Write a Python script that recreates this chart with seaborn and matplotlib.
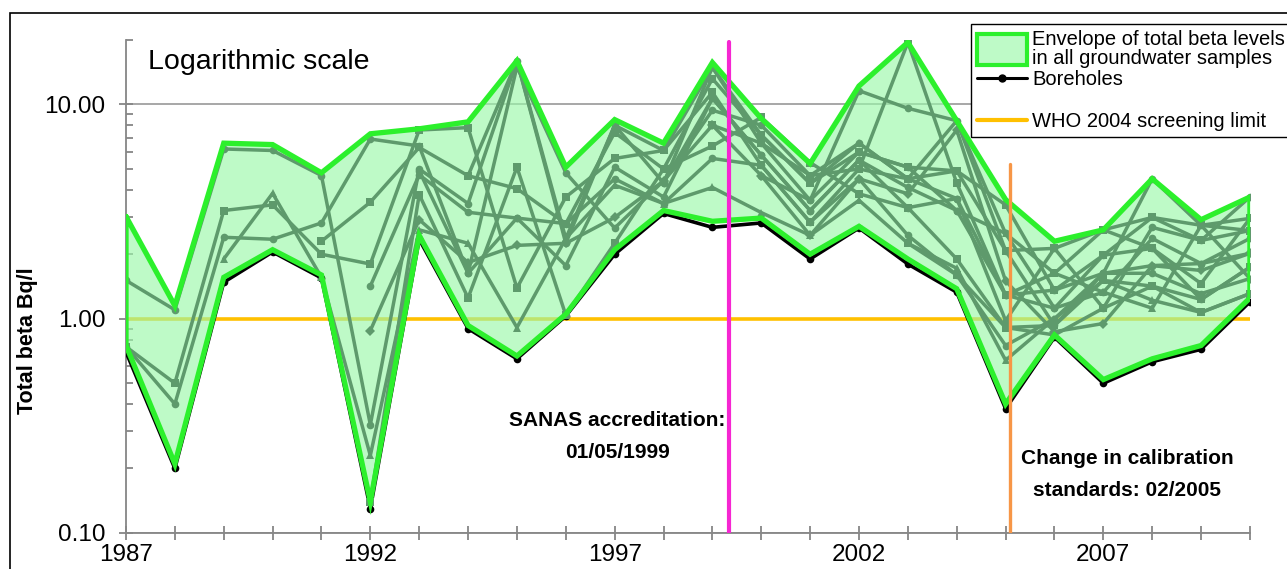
import numpy as np
import pandas as pd
import matplotlib
matplotlib.use("Agg")
import matplotlib.pyplot as plt
from matplotlib.patches import Rectangle
from matplotlib.lines import Line2D
from matplotlib.legend_handler import HandlerPatch
from matplotlib.ticker import FixedLocator, LogLocator, FuncFormatter, NullFormatter
import seaborn as sns

nan = np.nan

# ---- data -------------------------------------------------------------
years = list(range(1987, 2011))

# envelope of total beta levels in all groundwater samples (Bq/l)
envelope_max = [3.0, 1.15, 6.6, 6.5, 4.8, 7.3, 7.7, 8.3, 16.0, 5.1, 8.5, 6.6,
                15.7, 8.6, 5.3, 12.2, 19.5, 8.4, 3.6, 2.3, 2.6, 4.5, 2.9, 3.7]
envelope_min = [0.75, 0.21, 1.56, 2.1, 1.6, 0.14, 2.45, 0.93, 0.67, 1.05, 2.1, 3.2,
                2.85, 2.95, 2.0, 2.7, 1.9, 1.38, 0.40, 0.84, 0.52, 0.65, 0.75, 1.25]

# reference borehole series (black)
borehole_ref = [0.70, 0.20, 1.48, 2.05, 1.55, 0.13, 2.35, 0.90, 0.65, 1.03, 2.0, 3.1,
                2.67, 2.8, 1.9, 2.65, 1.8, 1.33, 0.38, 0.82, 0.50, 0.63, 0.72, 1.2]

# individual boreholes
bh01 = [1.51, 1.10, 6.2, 6.1, 4.66, 0.32, 5.0, 3.45, 16.0, 2.25, 8.0, 4.3,
        14.9, 6.6, 3.57, 11.6, 9.6, 8.4, 2.08, 0.93, 1.63, 4.5, 2.73, 1.54]
bh02 = [0.74, 0.50, 3.2, 3.4, 2.0, 1.8, 7.6, 7.8, 1.39, 3.7, 5.6, 6.1,
        11.4, 5.2, 2.82, 5.0, 19.5, 4.3, 1.29, 1.63, 2.6, 2.13, 1.46, 2.94]
bh03 = [0.74, 0.40, 2.4, 2.35, 2.8, 6.9, 6.4, 1.63, 15.0, 4.8, 2.65, 4.4,
        9.4, 8.0, 4.66, 6.6, 4.5, 3.64, 0.98, 2.13, 1.12, 2.67, 2.32, 3.7]
bh04 = [nan, nan, 1.9, 3.85, 1.56, 0.23, 2.6, 2.25, 0.91, 2.37, 4.2, 3.45,
        4.1, 3.13, 2.45, 3.57, 2.25, 1.72, 0.64, 1.0, 1.51, 1.22, 1.07, 1.31]
bh05 = [nan, nan, nan, nan, 2.3, 3.5, 6.3, 4.65, 4.05, 2.78, 7.4, 5.0,
        13.2, 7.2, 4.28, 6.0, 5.1, 4.9, 3.4, 1.36, 1.98, 2.97, 2.73, 2.58]
bh06 = [nan, nan, nan, nan, nan, 1.42, 4.7, 3.14, 2.95, 1.77, 5.1, 3.7,
        10.7, 5.8, 3.2, 5.5, 4.1, 3.2, 2.5, 1.12, 1.33, 2.37, 1.81, 2.37]
bh07 = [nan, nan, nan, nan, nan, 0.88, 2.9, 1.83, 2.2, 2.25, 2.97, 4.4,
        8.0, 4.66, 2.45, 4.5, 3.83, 7.6, 1.5, 0.87, 0.95, 1.77, 1.68, 2.02]
bh08 = [nan, nan, nan, nan, nan, 0.14, 3.8, 1.25, 5.1, 1.04, 2.25, 5.0,
        6.4, 8.7, 5.36, 3.83, 3.3, 1.9, 0.91, 0.84, 1.12, 1.42, 1.23, 1.74]
bh09 = [nan, nan, nan, nan, nan, nan, 4.9, 1.63, 2.95, 2.78, 4.5, 3.45,
        5.6, 5.2, 2.82, 4.5, 2.45, 1.6, 0.75, 1.0, 1.63, 1.63, 1.31, 1.54]
bh10 = [nan, nan, nan, nan, nan, nan, nan, 4.65, 16.0, 2.37, 8.0, 6.1,
        14.9, 7.2, 4.28, 6.6, 4.5, 8.4, 2.5, 1.63, 1.33, 1.12, 2.73, 2.94]
bh11 = [nan] * 12 + [8.0, 6.6, 4.66, 5.0, 4.5, 4.9, 2.08, 2.13, 2.6, 2.97, 2.32, 2.58]
bh12 = [nan] * 13 + [4.66, 3.57, 6.0, 5.1, 3.2, 1.29, 1.12, 1.98, 2.13, 1.23, 1.74]
bh13 = [nan] * 16 + [2.25, 1.6, 0.91, 0.93, 1.51, 1.42, 1.07, 1.31]
bh14 = [nan] * 11 + [4.3, 10.7, 5.8, 3.2, 5.5, 3.3, 3.64, 1.29, 1.36, 1.63, 1.77, 1.81, 2.02]

boreholes = [bh01, bh02, bh03, bh04, bh05, bh06, bh07, bh08, bh09, bh10, bh11, bh12, bh13, bh14]

who_limit = 1.0
sanas_date = 1999 + 4 / 12       # 01/05/1999
calib_date = 2005 + 1 / 12       # 02/2005

# ---- styling ----------------------------------------------------------
sns.set_theme(style="white")
plt.rcParams["font.family"] = ["Liberation Sans", "DejaVu Sans"]
plt.rcParams.update({"text.color": "black", "axes.labelcolor": "black",
                     "xtick.labelcolor": "black", "ytick.labelcolor": "black"})

AXIS_GREY = "#868686"
SERIES_GREEN = "#5E9A6C"
ENV_EDGE = "#2CF02C"
ENV_FILL = (155 / 255, 248 / 255, 169 / 255, 0.65)
WHO_COLOR = "#FFC000"
SANAS_COLOR = "#F626D2"
CALIB_COLOR = "#F79646"

fig = plt.figure(figsize=(12.87, 5.69), dpi=100)
ax = fig.add_axes([0.0979, 0.0633, 0.8733, 0.8664])

# long-form table of the borehole measurements
rows = []
for i, series in enumerate(boreholes):
    for yr, v in zip(years, series):
        if not np.isnan(v):
            rows.append({"year": yr, "value": v, "borehole": f"BH{i + 1:02d}"})
df = pd.DataFrame(rows)
names = sorted(df["borehole"].unique())
marker_cycle = ["o", "s", "o", "^", "s", "o", "D", "s", "o", "^", "s", "o", "s", "o"]

ax.set_yscale("log")

# WHO screening limit (under the envelope fill)
ax.plot([years[0], years[-1]], [who_limit, who_limit], color=WHO_COLOR, lw=2.6, zorder=1.5)

# envelope fill
ax.fill_between(years, envelope_min, envelope_max, facecolor=ENV_FILL, lw=0, zorder=2)

# black reference borehole
sns.lineplot(x=years, y=borehole_ref, ax=ax, color="black", lw=2.6, marker="o",
             markersize=5.5, markeredgewidth=0, zorder=3, legend=False)

# individual boreholes
sns.lineplot(data=df, x="year", y="value", hue="borehole", style="borehole",
             hue_order=names, style_order=names,
             palette=[SERIES_GREEN] * len(names), markers=marker_cycle[:len(names)],
             dashes=False, lw=2.5, markersize=5.5, markeredgewidth=0,
             errorbar=None, legend=False, ax=ax, zorder=4)

# envelope outline (closed at both ends)
outline_x = years + years[::-1] + [years[0]]
outline_y = envelope_max + envelope_min[::-1] + [envelope_max[0]]
ax.plot(outline_x, outline_y, color=ENV_EDGE, lw=3.8, zorder=5, solid_joinstyle="miter")

# event markers
ax.plot([sanas_date, sanas_date], [0.1, 19.5], color=SANAS_COLOR, lw=3, zorder=6)
ax.plot([calib_date, calib_date], [0.1, 5.3], color=CALIB_COLOR, lw=2.4, zorder=6)

ax.text(1997.06, 0.282, "SANAS accreditation:\n01/05/1999", ha="center", va="center",
        fontsize=15, fontweight="bold", linespacing=1.85, zorder=7)
ax.text(2007.49, 0.187, "Change in calibration\nstandards: 02/2005", ha="center", va="center",
        fontsize=15, fontweight="bold", linespacing=1.85, zorder=7)

# ---- axes -------------------------------------------------------------
ax.set_xlim(1987, 2010)
ax.set_ylim(0.1, 20)

ax.xaxis.set_major_locator(FixedLocator(years))
ax.xaxis.set_major_formatter(FuncFormatter(
    lambda v, p: f"{int(round(v))}" if int(round(v)) in (1987, 1992, 1997, 2002, 2007) else ""))
ax.yaxis.set_major_locator(FixedLocator([0.1, 1, 10]))
ax.yaxis.set_major_formatter(FuncFormatter(lambda v, p: f"{v:.2f}"))
ax.yaxis.set_minor_locator(LogLocator(base=10, subs=np.arange(2, 10)))
ax.yaxis.set_minor_formatter(NullFormatter())

ax.tick_params(axis="x", which="major", direction="inout", length=10, width=1.3,
               color=AXIS_GREY, labelsize=17.5, pad=3, bottom=True)
ax.tick_params(axis="y", which="major", direction="inout", length=10, width=1.3,
               color=AXIS_GREY, labelsize=17.5, pad=10, left=True)
ax.tick_params(axis="y", which="minor", direction="in", length=5, width=1.3,
               color=AXIS_GREY, left=True)

for side in ("top", "right"):
    ax.spines[side].set_visible(False)
for side in ("left", "bottom"):
    ax.spines[side].set_color(AXIS_GREY)
    ax.spines[side].set_linewidth(1.3)

ax.yaxis.grid(True, which="major", color="#A0A0A0", lw=1.3, zorder=0.5)
ax.xaxis.grid(False)
ax.set_axisbelow(True)

ax.set_xlabel("")
ax.set_ylabel("Total beta Bq/l", fontsize=15.5, fontweight="bold")
ax.yaxis.set_label_coords(-0.078, 0.391)

fig.text(148 / 1287, 1 - 62 / 569, "Logarithmic scale", fontsize=20.5, va="center", ha="left")

# ---- legend -----------------------------------------------------------
def tall_patch(legend, orig_handle, xdescent, ydescent, width, height, fontsize):
    h = 23
    return Rectangle((-xdescent, -ydescent + height / 2 - h / 2), width, h)

env_handle = Rectangle((0, 0), 1, 1, facecolor=ENV_FILL, edgecolor=ENV_EDGE, lw=3)
bh_handle = Line2D([], [], color="black", lw=2.2, marker="o", markersize=5)
gap_handle = Line2D([], [], color="none")
who_handle = Line2D([], [], color=WHO_COLOR, lw=3)

leg = fig.legend([env_handle, bh_handle, gap_handle, who_handle],
                 ["Envelope of total beta levels\nin all groundwater samples", "Boreholes", "",
                  "WHO 2004 screening limit"],
                 loc="upper left", bbox_to_anchor=(971 / 1287, 1 - 24 / 569),
                 bbox_transform=fig.transFigure, frameon=True, fancybox=False,
                 edgecolor="black", framealpha=1, borderpad=0.3, labelspacing=0.1,
                 handlelength=2.5, handletextpad=0.25, borderaxespad=0, fontsize=14.5,
                 handler_map={Rectangle: HandlerPatch(patch_func=tall_patch)})
for t in leg.get_texts():
    t.set_linespacing(1.0)
leg.get_frame().set_linewidth(1.0)

# outer chart frame
fig.add_artist(Rectangle((10 / 1287, -0.05), 1.0, 1 - 13 / 569 + 0.05,
                         transform=fig.transFigure, fill=False, edgecolor="black", lw=1.2))

fig.savefig("out.png", dpi=100)
